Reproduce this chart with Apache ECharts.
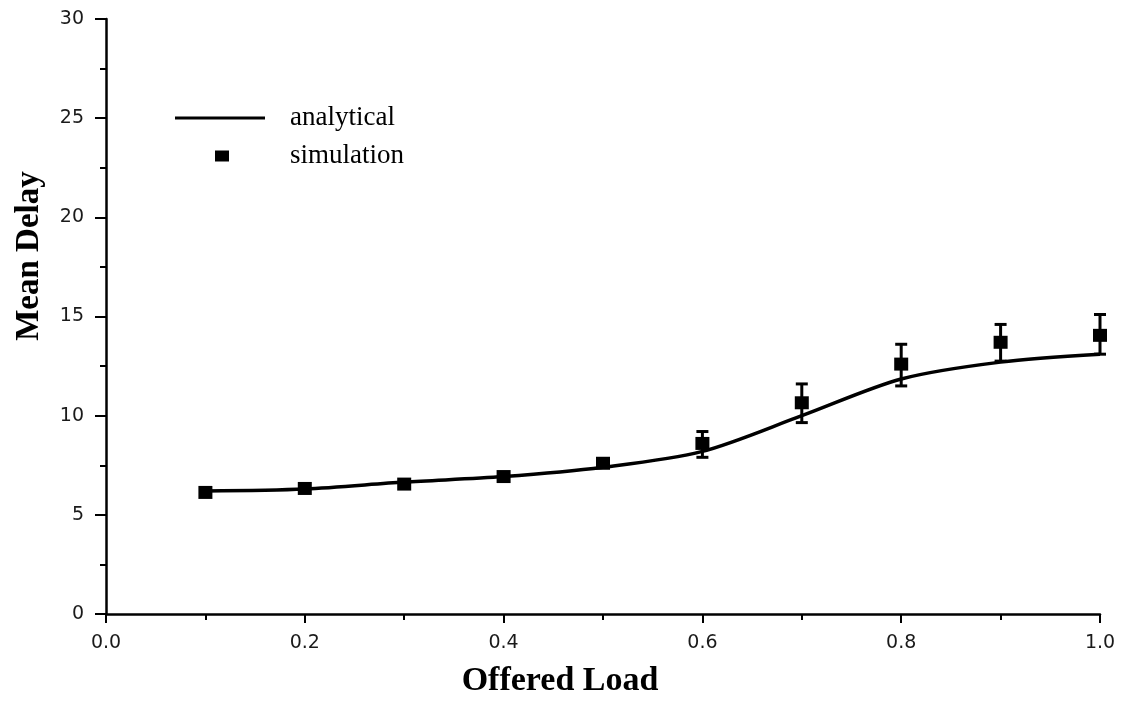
<!DOCTYPE html>
<html>
<head>
<meta charset="utf-8">
<script src="https://cdn.jsdelivr.net/npm/echarts@6/dist/echarts.min.js"></script>
<style>
  html, body { margin: 0; padding: 0; background: #fff; }
  #chart { width: 1129px; height: 701px; }
</style>
</head>
<body>
<div id="chart"></div>
<script>
// Offered load (x) values
const loads = [0.1, 0.2, 0.3, 0.4, 0.5, 0.6, 0.7, 0.8, 0.9, 1.0];
// Analytical model mean delay
const analytical = [6.2, 6.3, 6.65, 6.93, 7.4, 8.2, 10.0, 11.85, 12.7, 13.1];
// Simulation mean delay and its error bar limits
const simulation = [6.13, 6.33, 6.55, 6.93, 7.6, 8.6, 10.65, 12.6, 13.7, 14.05];
const simLow = [6.05, 6.2, 6.45, 6.8, 7.4, 7.9, 9.65, 11.5, 12.75, 13.1];
const simHigh = [6.25, 6.45, 6.7, 7.05, 7.8, 9.2, 11.6, 13.6, 14.6, 15.1];

const lineData = loads.map((x, i) => [x, analytical[i]]);
const simData = loads.map((x, i) => [x, simulation[i]]);
const errData = loads.map((x, i) => [x, simLow[i], simHigh[i]]);

const chart = echarts.init(document.getElementById('chart'));

const tickFont = { fontFamily: 'DejaVu Sans', fontWeight: 'normal', fontSize: 19, color: '#1a1a1a' };
const legendFont = { fontFamily: 'Liberation Serif', fontSize: 27, color: '#000', lineHeight: 30 };

chart.setOption({
  animation: false,
  backgroundColor: '#fff',
  grid: { left: 106, right: 29, top: 19, bottom: 87 },
  legend: [
    {
      left: 175, top: 103, padding: 0, orient: 'vertical',
      data: [{ name: 'analytical', icon: 'rect' }],
      itemWidth: 90, itemHeight: 3,
      textStyle: Object.assign({ padding: [0, 0, 0, 20] }, legendFont),
      selectedMode: false
    },
    {
      left: 215, top: 141, padding: 0, orient: 'vertical',
      data: [{ name: 'simulation', icon: 'rect' }],
      itemWidth: 14, itemHeight: 11,
      textStyle: Object.assign({ padding: [0, 0, 0, 56] }, legendFont),
      selectedMode: false
    }
  ],
  graphic: [
    {
      type: 'text', x: 29, y: 256, rotation: Math.PI / 2,
      style: {
        text: 'Mean Delay', fontFamily: 'Liberation Serif', fontWeight: 'bold', fontSize: 33,
        fill: '#000', align: 'center', verticalAlign: 'middle'
      }
    },
    {
      type: 'text', x: 560, y: 681,
      style: {
        text: 'Offered Load', fontFamily: 'Liberation Serif', fontWeight: 'bold', fontSize: 34,
        fill: '#000', align: 'center', verticalAlign: 'middle'
      }
    }
  ],
  xAxis: {
    type: 'value', min: 0, max: 1, interval: 0.2,
    axisLine: { lineStyle: { color: '#000', width: 2.5 } },
    axisTick: { show: true, length: 9, lineStyle: { color: '#000', width: 2 } },
    minorTick: { show: true, splitNumber: 2, length: 6, lineStyle: { color: '#000', width: 2 } },
    splitLine: { show: false },
    axisLabel: Object.assign({ margin: 20, formatter: v => v.toFixed(1) }, tickFont)
  },
  yAxis: {
    type: 'value', min: 0, max: 30, interval: 5,
    axisLine: { show: true, lineStyle: { color: '#000', width: 2.5 } },
    axisTick: { show: true, length: 11, lineStyle: { color: '#000', width: 2 } },
    minorTick: { show: true, splitNumber: 2, length: 6, lineStyle: { color: '#000', width: 2 } },
    splitLine: { show: false },
    axisLabel: Object.assign({ margin: 22 }, tickFont)
  },
  series: [
    {
      name: 'analytical', type: 'line', data: lineData,
      smooth: 0.3, symbol: 'none',
      lineStyle: { color: '#000', width: 3.5 },
      itemStyle: { color: '#000' },
      z: 3
    },
    {
      name: 'simulation-error', type: 'custom', data: errData,
      renderItem: function (params, api) {
        const x = api.value(0);
        const lo = api.coord([x, api.value(1)]);
        const hi = api.coord([x, api.value(2)]);
        const cap = 6;
        const style = { stroke: '#000', lineWidth: 3 };
        return {
          type: 'group',
          children: [
            { type: 'line', shape: { x1: lo[0], y1: lo[1], x2: hi[0], y2: hi[1] }, style: style },
            { type: 'line', shape: { x1: hi[0] - cap, y1: hi[1], x2: hi[0] + cap, y2: hi[1] }, style: style },
            { type: 'line', shape: { x1: lo[0] - cap, y1: lo[1], x2: lo[0] + cap, y2: lo[1] }, style: style }
          ]
        };
      },
      z: 4
    },
    {
      name: 'simulation', type: 'scatter', data: simData,
      symbol: 'rect', symbolSize: [14, 13],
      itemStyle: { color: '#000', opacity: 1 },
      z: 5
    }
  ]
});
</script>
</body>
</html>
